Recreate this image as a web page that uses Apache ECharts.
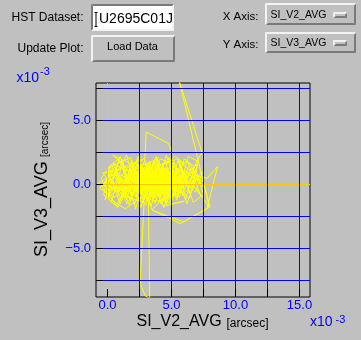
<!DOCTYPE html>
<html>
<head>
<meta charset="utf-8">
<script src="https://cdn.jsdelivr.net/npm/echarts/dist/echarts.min.js"></script>
<style>
html,body{margin:0;padding:0;background:#c0c0c0;}
#chart{width:361px;height:340px;}
</style>
</head>
<body>
<div id="chart"></div>
<script>
// ---- pointing samples, SI_V2_AVG vs SI_V3_AVG (units: 1e-3 arcsec) ----
const samples = [
[1.2,0.4],[0.3,1.1],[-0.2,0.2],[0.8,-0.6],[1.9,0.9],[0.5,1.6],[-0.5,0.5],[0.2,-0.9],[1.4,0.1],[2.6,1.2],
[1.1,-0.4],[-0.8,0.05],[0.4,0.8],[1.7,-1.1],[2.2,0.5],[0.9,1.9],[0.1,-0.3],[-0.2,-1.2],[1.3,0.6],[2.9,-0.2],
[1.6,1.4],[0.6,-0.1],[2.0,-0.7],[3.1,0.8],[1.0,0.3],[0.0,1.3],[1.8,2.1],[2.4,-0.4],[0.7,0.5],[1.5,-1.5],
[2.7,0.2],[3.4,1.6],[2.1,0.0],[1.2,-0.8],[0.3,0.1],[-0.4,0.9],[0.9,1.2],[2.3,1.8],[3.0,-0.6],[1.9,-0.1],
[3.3,0.5],[4.1,-0.3],[2.8,1.0],[3.9,0.9],[4.6,0.1],[3.2,-0.4],[2.5,0.7],[3.7,1.3],[4.4,0.6],[5.0,-0.2],
[3.6,0.2],[2.9,-0.9],[4.2,1.1],[3.4,-0.1],[2.6,0.4],[3.8,0.0],[4.8,0.8],[5.3,0.3],[4.0,-0.7],[3.1,0.3],
[2.2,-0.3],[3.5,1.0],[4.5,-0.1],[3.9,0.5],[2.7,-0.5],[3.3,1.4],[4.3,0.2],[5.1,1.0],[4.7,-0.6],[3.6,0.7],
[2.4,0.1],[3.0,1.1],[4.2,-0.2],[5.6,0.4],[4.9,1.3],[3.7,-0.3],[2.8,0.6],[3.5,-0.8],[4.4,1.0],[5.2,-0.4],
[4.0,0.4],[3.2,0.9],[2.3,-0.6],[3.8,0.8],[4.6,-0.9],[5.4,0.9],[4.1,0.0],[3.4,0.6],[2.6,1.5],[3.9,-0.5],
[4.7,0.5],[5.8,-0.1],[4.3,1.4],[3.1,-0.2],[2.1,0.9],[3.6,0.1],[4.5,0.7],[3.0,0.0],[4.8,-0.3],[5.5,1.2],
[4.2,0.3],[3.3,-0.6],[2.5,0.2],[3.7,1.0],[4.6,0.2],[5.9,0.7],[4.4,-0.4],[3.5,0.4],[2.9,1.3],[4.0,0.9],
[4.9,-0.7],[3.8,-0.1],[2.7,0.3],[3.2,1.7],[4.3,-0.8],[5.0,0.5],[3.9,1.2],[3.0,-0.4],[2.2,0.6],[3.6,-0.6],
[4.7,1.1],[5.7,0.2],[4.5,-0.2],[3.4,0.8],[2.8,-0.2],[4.1,0.6],[5.2,0.0],[3.7,0.3],[2.4,1.1],[3.3,0.1],
[2.9,1.9],[2.95,2.55],[3.02,4.1],[4.77,3.2],[5.03,2.55],[4.9,1.4],[3.9,0.2],
[2.1,1.7],[1.4,-0.9],[2.8,-1.4],[3.6,1.9],[4.5,-1.1],[5.2,1.6],[4.1,2.0],[3.0,-1.6],[1.8,-0.5],[0.9,2.0],
[0.2,1.5],[-0.3,-0.8],[0.7,-1.7],[1.6,0.3],[2.4,2.2],[3.3,-1.2],[4.3,1.5],[5.0,-1.3],[5.9,1.1],[6.4,-0.7],
[5.5,1.9],[4.6,-1.6],[3.9,1.7],[2.9,-1.1],[2.0,1.3],[1.1,-1.3],[0.4,0.4],[1.5,2.3],[2.6,-1.8],[3.5,0.9],
[4.4,-1.3],[5.3,0.7],[6.1,-1.2],[6.8,1.4],[6.0,2.0],[5.1,-0.9],[4.0,1.8],[3.2,-1.4],[2.3,1.0],[1.3,-1.0],
[0.5,1.7],[-0.1,-0.5],[0.8,-1.8],[1.9,1.5],[2.7,-0.8],[3.8,2.2],[4.9,-1.4],[5.8,0.9],[6.6,-0.4],[7.1,1.8],
[6.3,2.2],[5.4,-1.2],[4.5,1.9],[3.4,-1.7],[2.5,1.6],[1.4,-0.7],[0.6,1.0],[1.7,-1.6],[2.9,1.9],[4.1,-1.0],
[4.6,0.9],[5.5,-0.5],[6.2,0.6],[5.1,1.5],[6.8,0.2],[5.9,-0.8],[6.5,1.3],[7.2,0.4],[6.0,0.0],[5.3,0.8],
[6.9,-0.6],[7.4,1.0],[6.3,-0.2],[5.6,1.8],[6.7,0.9],[7.6,-0.3],[6.1,1.1],[5.4,-1.0],[4.8,0.4],[6.4,-1.1],
[7.0,1.6],[5.8,0.5],[4.9,-0.1],[6.6,0.1],[7.3,-0.9],[6.2,1.9],[5.2,0.7],[4.5,1.3],[5.7,-0.3],[6.9,0.7],
[7.8,0.5],[8.6,1.4],[7.77,-1.88],[5.94,-2.92],[3.47,-2.0],[4.2,-1.2],[5.0,-1.5],[6.0,-1.3],[4.4,-1.7],[3.6,-0.9],
[6.5,0.8],[7.37,2.55],[5.6,8.1],[7.95,-1.75],[7.0,-0.4],[6.1,0.3],
[3.4,-0.7],[2.85,-1.5],[2.55,-7.7],[2.95,-8.7],[3.3,-8.9],[3.2,-1.5],[3.6,-0.4],
[1.4,0.6],[2.3,-0.5],[3.2,0.9],[4.1,-0.6],[5.0,0.7],[4.3,-0.2],[3.4,1.2],[2.5,-0.7],[1.6,0.9],[2.7,0.0],
[3.8,1.1],[4.9,-0.5],[5.8,0.6],[5.0,1.2],[4.0,-0.9],[3.0,0.7],[2.0,-0.4],[1.3,1.0],[2.4,1.3],[3.5,-0.5],
[4.6,1.0],[5.5,-0.3],[4.7,0.4],[3.7,-1.0],[2.8,1.2],[1.9,-0.8],[1.0,0.5],[0.4,-0.4],[1.5,0.2],[2.6,0.9],
[3.6,-0.2],[4.5,1.3],[5.4,-0.8],[6.3,0.3],[5.3,1.0],[4.2,-0.3],[3.1,1.1],[2.2,-1.0],[1.2,0.0],[2.3,0.8],
[3.4,-0.8],[4.4,0.5],[5.5,-0.6],[6.5,0.9],[5.6,0.3],[4.6,-0.7],[3.5,0.8],[2.4,-0.2],[1.7,1.2],[2.8,-0.3],
[3.5,-2.0],[5.7,-3.05],[8.0,-1.75],[7.5,0.2],
[5.0,1.4],[5.9,-0.9],[4.8,2.1],[3.7,-1.5],[2.7,1.4],[1.8,-1.3],[0.9,0.7],[0.0,-1.0],[1.0,2.2],[2.2,-1.9],
[3.3,1.8],[4.4,-1.8],[5.5,1.3],[6.2,-1.5],[7.0,0.6],[6.4,1.7],[5.6,-1.0],[4.6,2.3],[3.6,-1.2],[2.4,2.0],
[1.5,-1.2],[0.6,1.4],[-0.4,-0.2],[0.3,-1.4],[1.2,1.8],[2.1,-1.6],[3.1,1.5],[4.2,-1.5],[5.2,1.8],[6.0,-0.4],
[6.9,1.2],[7.5,-0.8],[6.7,-1.4],[5.7,1.6],[4.7,-1.2],[3.9,2.0],[2.8,-1.3],[1.9,1.9],[1.0,-1.5],[0.1,0.8],
[3.9,0.3],[5.0,1.1],[4.1,-1.1],[3.0,0.9],[2.1,-0.6],[1.1,1.4],[0.2,0.3],[1.3,-0.6],[2.5,1.0],[3.6,-0.4],
[4.7,0.9],[5.7,-0.7],[4.9,0.3],[3.8,-0.6],[2.9,1.4],[2.0,-0.1],[3.1,-1.0],[4.2,0.7],[5.3,-0.1],[4.4,1.1],
[3.3,0.0],[2.2,1.1],[1.4,-0.3],[2.6,-1.1],[3.7,0.6],[4.8,-0.9],[5.9,0.5],[5.1,-0.4],[4.0,1.3],[2.9,-0.5],
[1.8,0.5],[0.8,-0.7],[1.9,1.1],[3.0,-0.8],[4.1,0.8],[5.2,-0.9],[6.1,0.8],[5.2,0.2],[4.3,-0.5],[3.2,1.3],
[2.3,-0.8],[1.3,0.3],[2.4,0.6],[3.5,-0.9],[4.6,0.6],[5.6,-0.5],[4.5,1.2],[3.4,-0.3],[2.5,1.2],[3.7,0.2],
[6.3,0.4],[5.0,-0.9],[3.9,-1.3],[2.6,-1.0],[1.4,-1.9],[0.6,-1.4],[-0.2,-0.6],[0.8,0.0],[1.7,0.7],[2.5,-0.1],
[1.3,1.5],[0.4,2.3],[1.9,1.6],[2.8,2.0],[2.1,1.3],[3.5,1.8],[4.0,2.1],[3.3,1.2],[4.7,1.7],[5.3,2.2],
[6.0,1.6],[5.5,2.0],[4.2,1.6],[3.1,0.4],[2.0,-0.2],[1.0,0.9],[0.1,0.6],[-0.6,-0.3],[0.5,-1.0],[1.6,-0.4],
[2.7,0.9],[3.8,-0.2],[4.6,0.3],[3.5,-0.3],[2.3,0.3],[1.5,0.8],[2.6,-0.3],[3.7,0.6],[4.5,-0.5],[5.6,-0.2],
[4.8,1.0],[3.9,0.1],[3.0,0.6],[4.1,1.2],[5.1,0.2],[4.3,-0.5],[3.2,-0.1],[2.1,0.4],[2.9,0.1],[3.9,0.7],
[4.7,-0.2],[3.6,0.9],[2.5,-0.4],[3.4,0.3],[4.4,0.4],[5.3,-0.6],[4.2,0.8],[3.1,1.0],[2.0,0.2],[2.8,-0.7],
[3.8,0.4],[4.9,0.2],[4.0,-0.4],[3.0,0.2],[3.6,1.5],[4.5,0.0],[3.3,-0.3],[2.4,0.8],[3.5,0.6],[4.6,-0.4],
[5.4,0.6],[4.3,0.9],[3.2,0.0],[2.2,-0.1],[3.9,1.1],[4.8,0.0],[3.7,-0.7],[2.7,0.5],[4.0,0.2]
];
const xGridValues = [2.5, 5, 7.5, 10, 12.5, 15];
const yGridValues = [-7.5, -5, -2.5, 2.5, 5, 7.5];
const xTickValues = [0, 2.5, 5, 7.5, 10, 12.5, 15];
const yTickValues = [-7.5, -5, -2.5, 0, 2.5, 5, 7.5];
const xLabelValues = [0, 5, 10, 15];
const xTickLabels = ['0.0', '5.0', '10.0', '15.0'];
const yLabelValues = [-5, 0, 5];
const yTickLabels = ['\u22125.0', '0.0', '5.0'];
const zeroLines = [0];
const xRange = [-0.8984, 15.8203];
const yRange = [-8.789, 7.9297];

const FONT = '"Liberation Sans", Helvetica, Arial, sans-serif';

function bevel(x, y, w, h, raised, face) {
  const light = raised ? '#f2f2f2' : '#7a7a7a';
  const dark = raised ? '#7a7a7a' : '#f2f2f2';
  const els = [{ type: 'rect', shape: { x: x, y: y, width: w, height: h }, style: { fill: face } }];
  for (let k = 0; k < 2; k++) {
    const a = x + k + 0.5, b = y + k + 0.5, c = x + w - k - 0.5, d = y + h - k - 0.5;
    els.push({ type: 'polyline', shape: { points: [[a, d], [a, b], [c, b]] }, style: { stroke: light, lineWidth: 1, fill: null } });
    els.push({ type: 'polyline', shape: { points: [[a + 1, d], [c, d], [c, b + 1]] }, style: { stroke: dark, lineWidth: 1, fill: null } });
  }
  return els;
}
function txt(text, x, y, size, align, color, extra) {
  return Object.assign({
    type: 'text', x: x, y: y,
    style: { text: text, font: size + 'px ' + FONT, fill: color || '#000', align: align || 'left', verticalAlign: 'middle' }
  }, extra || {});
}

const graphics = [].concat(
  bevel(91, 4, 83, 27, false, '#ffffff'),
  bevel(91, 35, 84, 27, true, '#c0c0c0'),
  bevel(265, 3, 91, 22, true, '#c0c0c0'),
  bevel(265, 32, 91, 21, true, '#c0c0c0'),
  bevel(333, 12, 14, 6, true, '#c0c0c0'),
  bevel(333, 40, 14, 6, true, '#c0c0c0'),
  [
    txt('HST Dataset:', 83.5, 17.6, 12, 'right'),
    txt('Update Plot:', 83.5, 49, 12, 'right'),
    txt('U2695C01J', 99, 18.8, 14, 'left'),
    { type: 'polyline', shape: { points: [[94.5, 12.5], [97.5, 12.5]] }, style: { stroke: '#000', lineWidth: 1, fill: null } },
    { type: 'polyline', shape: { points: [[96, 12.5], [96, 26.5]] }, style: { stroke: '#000', lineWidth: 1, fill: null } },
    { type: 'polyline', shape: { points: [[94.5, 26.5], [97.5, 26.5]] }, style: { stroke: '#000', lineWidth: 1, fill: null } },
    txt('Load Data', 132.5, 47.2, 11, 'center'),
    txt('X Axis:', 258.5, 17.3, 11.5, 'right'),
    txt('Y Axis:', 258.5, 44.5, 11.5, 'right'),
    txt('SI_V2_AVG', 270.5, 15, 10.5, 'left'),
    txt('SI_V3_AVG', 270.5, 42.8, 10.5, 'left'),
    txt('SI_V3_AVG', 42, 257, 18, 'left', '#000', { rotation: Math.PI / 2 }),
    txt('[arcsec]', 45, 157, 10, 'left', '#000', { rotation: Math.PI / 2 }),
    txt('SI_V2_AVG', 136.5, 321.2, 16, 'left'),
    txt('[arcsec]', 226.5, 323.8, 12, 'left'),
    txt('x10', 16.5, 78.5, 14, 'left', '#0000ff'),
    txt('-3', 40, 71.5, 11, 'left', '#0000ff'),
    txt('x10', 310, 322.2, 14, 'left', '#0000ff'),
    txt('-3', 335.5, 319.5, 11, 'left', '#0000ff')
  ]
);

const chart = echarts.init(document.getElementById('chart'), null, { renderer: 'canvas' });
chart.setOption({
  animation: false,
  backgroundColor: '#c0c0c0',
  grid: { left: 96, top: 83, width: 214, height: 214, show: true, borderColor: '#000', borderWidth: 1, backgroundColor: 'transparent', containLabel: false },
  xAxis: {
    type: 'value', min: xRange[0], max: xRange[1], z: 5, position: 'bottom',
    axisLine: { show: false, onZero: false },
    splitLine: { show: false },
    axisTick: { show: true, inside: true, length: 8, customValues: xTickValues, lineStyle: { color: '#000', width: 1 } },
    axisLabel: { show: true, customValues: xLabelValues, margin: 2, color: '#0000ff', fontSize: 13, fontFamily: FONT,
      formatter: v => xTickLabels[xLabelValues.indexOf(v)] }
  },
  yAxis: {
    type: 'value', min: yRange[0], max: yRange[1], z: 5, position: 'left',
    axisLine: { show: false, onZero: false },
    splitLine: { show: false },
    axisTick: { show: true, inside: true, length: 7, customValues: yTickValues, lineStyle: { color: '#000', width: 1 } },
    axisLabel: { show: true, customValues: yLabelValues, margin: 5, color: '#0000ff', fontSize: 13, fontFamily: FONT,
      formatter: v => yTickLabels[yLabelValues.indexOf(v)] }
  },
  graphic: graphics,
  series: [
    {
      type: 'line', data: [], z: 1, silent: true,
      markLine: { silent: true, symbol: 'none', label: { show: false }, animation: false,
        lineStyle: { color: '#ffc800', width: 1, type: 'solid' },
        data: zeroLines.map(v => ({ xAxis: v })).concat(zeroLines.map(v => ({ yAxis: v }))) }
    },
    {
      type: 'line', data: [], z: 2, silent: true,
      markLine: { silent: true, symbol: 'none', label: { show: false }, animation: false,
        lineStyle: { color: '#0000ff', width: 1, type: 'solid' },
        data: xGridValues.map(v => ({ xAxis: v })).concat(yGridValues.map(v => ({ yAxis: v }))) }
    },
    {
      type: 'line', data: samples, z: 3, symbol: 'none', showSymbol: false, silent: true,
      lineStyle: { color: '#ffff00', width: 1 }, clip: true
    }
  ]
});
</script>
</body>
</html>
